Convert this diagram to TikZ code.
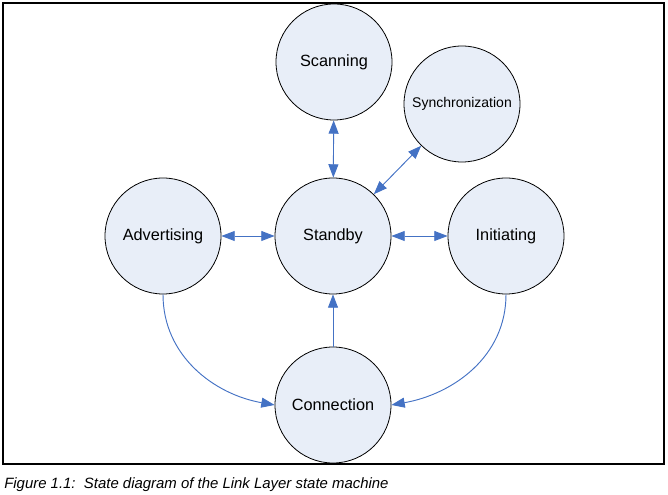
\documentclass[tikz,border=0pt]{standalone}
\usepackage{fontspec}
\setmainfont{Liberation Sans}
\usetikzlibrary{arrows.meta}
\definecolor{linkblue}{RGB}{68,114,196}
\definecolor{statefill}{RGB}{232,238,248}
\tikzset{
    state/.style={circle, draw=black, line width=0.6pt, fill=statefill, minimum size=87pt, inner sep=0pt, font=\fontsize{12.2}{14}\selectfont},
    link/.style={draw=linkblue, line width=0.7pt, -{Triangle[length=10pt,width=7.5pt]}},
    duplex/.style={link, {Triangle[length=10pt,width=7.5pt]}-{Triangle[length=10pt,width=7.5pt]}},
}
\begin{document}
\begin{tikzpicture}[x=0.75pt, y=-0.75pt]
    \useasboundingbox (0,0) rectangle (668,495);
    \draw[line width=1.2pt] (3,3) rectangle (664,464);
    % states
    \node[state] (scan) at (334,62) {Scanning};
    \node[state, font=\fontsize{10.5}{12}\selectfont] (sync) at (462,104) {Synchronization};
    \node[state] (stby) at (333,236) {Standby};
    \node[state] (adv) at (163,236) {Advertising};
    \node[state] (init) at (506,236) {Initiating};
    \node[state] (conn) at (333,405) {Connection};
    % transitions
    \foreach \s in {scan, sync, adv, init}
    \draw[duplex] (stby) -- (\s);
    \draw[link] (conn) -- (stby);
    \draw[link] (adv.south) to[out=-90, in=170] (conn.west);
    \draw[link] (init.south) to[out=-90, in=10] (conn.east);
    \node[anchor=west, inner sep=0pt, font=\fontsize{11.2}{13}\selectfont\itshape] (caption) at (4,485) {Figure 1.1:\ \ State diagram of the Link Layer state machine};
\end{tikzpicture}
\end{document}
